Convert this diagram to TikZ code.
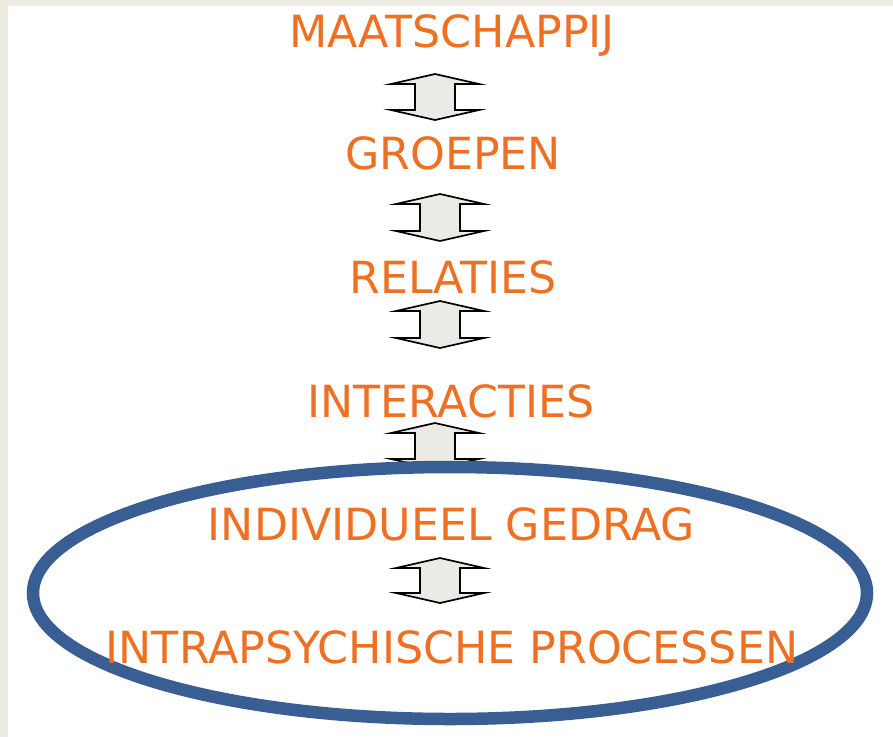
\documentclass[tikz,border=0pt]{standalone}
\usepackage{fontspec}
\setmainfont{DejaVu Sans}
\definecolor{txt}{RGB}{238,112,35}
\definecolor{ring}{RGB}{56,94,148}
\definecolor{arrfill}{RGB}{236,234,228}
\definecolor{bgstrip}{RGB}{238,235,227}
\tikzset{
  lbl/.style={text=txt, inner sep=0pt, anchor=base, font=\fontsize{44.3}{50}\selectfont},
  blockarrow/.style={draw=black, fill=arrfill, line width=1.7pt, line join=miter},
  ringstyle/.style={draw=ring, line width=12.5pt}
}
\newcommand\udarrow[3]{%
  \draw[blockarrow] (#1,#2) -- (#1+44,#2+10) -- (#1+20,#2+10) -- (#1+20,#3-10) -- (#1+44,#3-10) -- (#1,#3) -- (#1-44,#3-10) -- (#1-20,#3-10) -- (#1-20,#2+10) -- (#1-44,#2+10) -- cycle;}
\begin{document}
\begin{tikzpicture}[x=1pt,y=-1pt]
\useasboundingbox (0,0) rectangle (893,737);
\fill[white] (0,0) rectangle (893,737);
\fill[bgstrip] (0,0) rectangle (8,737);
\fill[bgstrip] (0,0) rectangle (893,6);
% block arrows
\udarrow{435}{74}{120}
\udarrow{440}{194}{241}
\udarrow{440}{301}{348}
\udarrow{435}{423}{469}
\udarrow{440}{558}{603}
% ring
\draw[ringstyle] (450,593) ellipse [x radius=417pt, y radius=126pt];
% labels
\node[lbl] (maat) at (452,47) {MAATSCHAPPIJ};
\node[lbl] (groep) at (453,169) {GROEPEN};
\node[lbl] (rel) at (453,293) {RELATIES};
\node[lbl] (inter) at (451,417) {INTERACTIES};
\node[lbl] (indiv) at (451.5,540) {INDIVIDUEEL GEDRAG};
\node[lbl] (intra) at (452,663) {INTRAPSYCHISCHE PROCESSEN};
\end{tikzpicture}
\end{document}
